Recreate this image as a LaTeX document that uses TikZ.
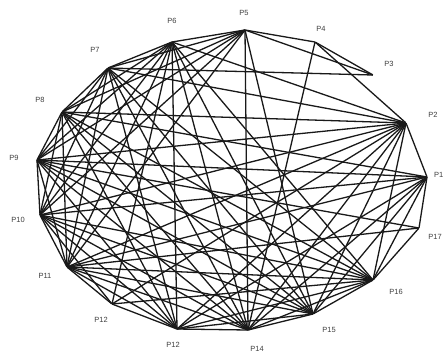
\documentclass[tikz,border=0pt]{standalone}
\usepackage{fontspec}
\setmainfont{Liberation Sans}
\begin{document}
\begin{tikzpicture}[x=1pt,y=-1pt,
  edge/.style={draw=black!90, line width=1.3pt},
  lab/.style={font=\fontsize{7.5}{8}\selectfont, text=black!75, inner sep=0pt},
  vtx/.style={inner sep=0pt, minimum size=0pt}]
\useasboundingbox (0,0) rectangle (446,354);
\fill[white] (0,0) rectangle (446,354);
\node[vtx] (p1) at (427,177) {};
\node[vtx] (p2) at (406,123) {};
\node[vtx] (p3) at (373,75) {};
\node[vtx] (p4) at (315,42) {};
\node[vtx] (p5) at (245,30) {};
\node[vtx] (p6) at (172,42) {};
\node[vtx] (p7) at (108,68) {};
\node[vtx] (p8) at (62,112) {};
\node[vtx] (p9) at (37,160) {};
\node[vtx] (p10) at (40,215) {};
\node[vtx] (p11) at (67,267) {};
\node[vtx] (p12) at (112,304) {};
\node[vtx] (p13) at (177,329) {};
\node[vtx] (p14) at (248,330) {};
\node[vtx] (p15) at (313,314) {};
\node[vtx] (p16) at (373,280) {};
\node[vtx] (p17) at (419,228) {};
% labels
\node[lab, anchor=west] (l1) at (434,175) {P1};
\node[lab] (l2) at (433,115) {P2};
\node[lab] (l3) at (389,64) {P3};
\node[lab] (l4) at (321,29) {P4};
\node[lab] (l5) at (244,13) {P5};
\node[lab] (l6) at (172,21) {P6};
\node[lab] (l7) at (95,50) {P7};
\node[lab] (l8) at (40,100) {P8};
\node[lab] (l9) at (14,158) {P9};
\node[lab] (l10) at (18,220) {P10};
\node[lab] (l11) at (45,276) {P11};
\node[lab] (l12) at (101,320) {P12};
\node[lab] (l13) at (173,345) {P12};
\node[lab] (l14) at (257,349) {P14};
\node[lab] (l15) at (329,330) {P15};
\node[lab] (l16) at (396,292) {P16};
\node[lab] (l17) at (435,237) {P17};
% hub complete graph
\foreach \a/\b in {2/6,2/7,2/8,2/9,2/10,2/11,2/13,2/14,2/15,2/16,
  6/7,6/8,6/9,6/10,6/11,6/13,6/14,6/15,6/16,
  7/8,7/9,7/10,7/11,7/13,7/14,7/15,7/16,
  8/9,8/10,8/11,8/13,8/14,8/15,8/16,
  9/10,9/11,9/13,9/14,9/15,9/16,
  10/11,10/13,10/14,10/15,10/16,
  11/13,11/14,11/15,11/16,
  13/14,13/15,13/16,14/15,14/16,15/16}
  {\draw[edge] (p\a) -- (p\b);}
% other edges
\foreach \a/\b in {2/4,3/4,3/5,3/7,4/5,4/14,5/6,5/7,5/8,5/9,5/10,5/11,5/14,5/15,
  1/2,1/17,1/16,1/15,1/8,1/9,1/10,1/11,1/13,1/14,
  17/16,17/9,17/11,
  12/11,12/13,12/16,12/2,12/6,12/10}
  {\draw[edge] (p\a) -- (p\b);}
\end{tikzpicture}
\end{document}
